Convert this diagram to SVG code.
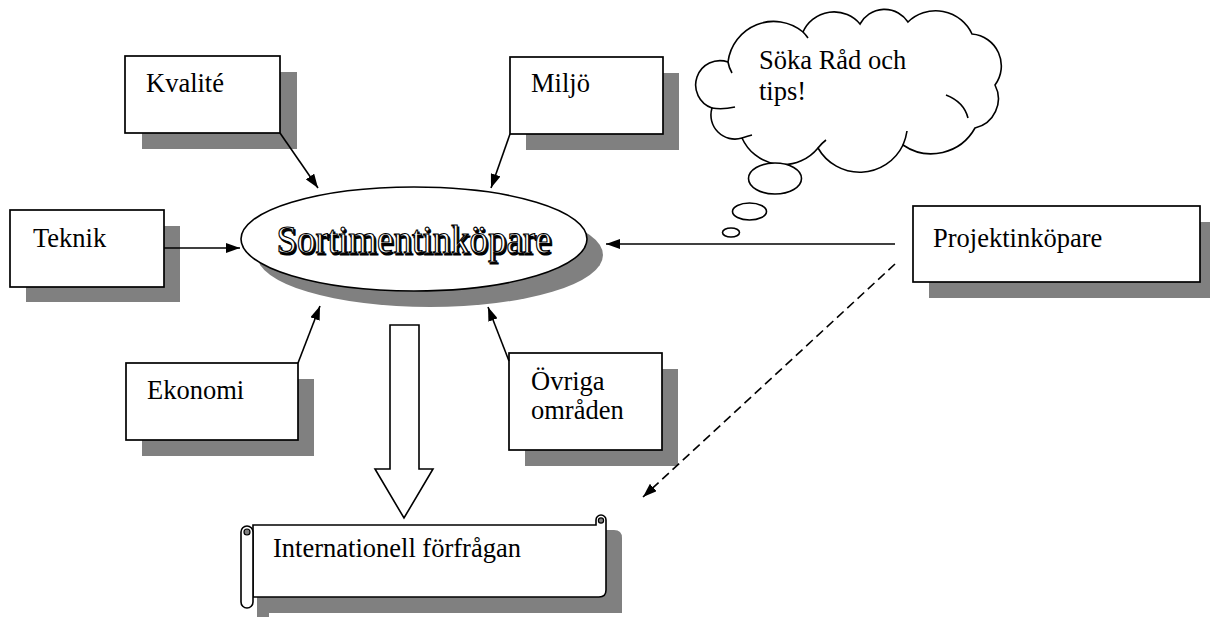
<svg xmlns="http://www.w3.org/2000/svg" width="1210" height="617" viewBox="0 0 1210 617">
<defs>
<style>
.bx{fill:#fff;stroke:#000;stroke-width:1.7}
.sh{fill:#808080;stroke:none}
.t{font-family:"Liberation Serif","Times New Roman",serif;font-size:26.5px;fill:#000}
.ln{stroke:#000;stroke-width:1.6;fill:none}
.ol{fill:#fff;stroke:#000;stroke-width:1.6}
</style>
<marker id="ah" viewBox="0 0 14 10" refX="14" refY="5" markerWidth="14" markerHeight="10" markerUnits="userSpaceOnUse" orient="auto">
<path d="M0,0 L14,5 L0,10 Z" fill="#000"/>
</marker>
</defs>
<rect width="1210" height="617" fill="#fff"/>

<g id="kvalite">
<rect class="sh" x="142" y="72" width="155" height="77"/>
<rect class="bx" x="125" y="56" width="155" height="77"/>
<text class="t" x="146" y="92">Kvalité</text>
</g>

<g id="miljo">
<rect class="sh" x="526" y="73" width="153" height="77"/>
<rect class="bx" x="510" y="57" width="153" height="77"/>
<text class="t" x="531" y="92">Miljö</text>
</g>

<g id="teknik">
<rect class="sh" x="26" y="226" width="154" height="76"/>
<rect class="bx" x="10" y="210" width="154" height="77"/>
<text class="t" x="33" y="247">Teknik</text>
</g>

<g id="ekonomi">
<rect class="sh" x="142" y="379" width="172" height="77"/>
<rect class="bx" x="126" y="363" width="172" height="77"/>
<text class="t" x="147" y="399">Ekonomi</text>
</g>

<g id="ovriga">
<rect class="sh" x="525" y="369" width="153" height="97"/>
<rect class="bx" x="509" y="353" width="153" height="97"/>
<text class="t" x="531" y="390">Övriga</text>
<text class="t" x="531" y="419">områden</text>
</g>

<g id="projektinkopare">
<rect class="sh" x="929" y="222" width="287" height="76"/>
<rect class="bx" x="913" y="206" width="287" height="76"/>
<text class="t" x="933" y="247">Projektinköpare</text>
</g>

<g id="sortimentinkopare">
<ellipse class="sh" cx="430" cy="255" rx="173" ry="52"/>
<ellipse class="ol" cx="414" cy="239" rx="173" ry="52"/>
<text x="415.5" y="254.5" text-anchor="middle" textLength="275" lengthAdjust="spacingAndGlyphs" font-family="Liberation Serif,Times New Roman,serif" font-size="41" fill="#000" stroke="#000" stroke-width="1.2">Sortimentinköpare</text>
<text x="414" y="253" text-anchor="middle" textLength="275" lengthAdjust="spacingAndGlyphs" font-family="Liberation Serif,Times New Roman,serif" font-size="41" fill="#fff" stroke="#000" stroke-width="1.2">Sortimentinköpare</text>
</g>

<g id="cloud">
<path class="ol" d="M712,108 A24,24 0 0 1 728,62 A46,46 0 0 1 803,32 A34,34 0 0 1 860,24 A28,28 0 0 1 908,22 A40,40 0 0 1 972,34 A32,32 0 0 1 995,85 A30,30 0 0 1 975,128 A50,50 0 0 1 903,145 A48,48 0 0 1 818,148 A45,45 0 0 1 742,138 A24,24 0 0 1 712,108 Z"/>
<path class="ln" d="M712,108 Q722,110 735,107"/>
<path class="ln" d="M728,62 Q729,68 732,73"/>
<path class="ln" d="M803,32 Q806,35 808,38"/>
<path class="ln" d="M946,95 Q964,102 968,118"/>
<path class="ln" d="M903,145 Q906,138 907,131"/>
<path class="ln" d="M818,148 Q822,143 826,140"/>
<path class="ln" d="M742,138 Q748,136 752,135"/>
<text class="t" x="759" y="69">Söka Råd och</text>
<text class="t" x="759" y="100">tips!</text>
<ellipse class="ol" cx="775" cy="178.5" rx="26.5" ry="15.5"/>
<ellipse class="ol" cx="749.5" cy="211.5" rx="17" ry="8.5"/>
<ellipse class="ol" cx="731" cy="232.5" rx="8.5" ry="4.5"/>
</g>

<g id="internationell">
<path class="sh" d="M257,530 H614 Q622,530 622,538 V613 H269 V617 H257 Z"/>
<path class="ol" d="M253,525 H596 V520 A5,5 0 0 1 606,520 V590 Q606,597 599,597 H253 Z"/>
<circle cx="601" cy="520.5" r="2.6" fill="#808080" stroke="#000" stroke-width="1.2"/>
<rect class="ol" x="241" y="526" width="12" height="82" rx="6"/>
<circle cx="247" cy="532" r="3" fill="#808080" stroke="#000" stroke-width="1.2"/>
<text class="t" x="273" y="557">Internationell förfrågan</text>
</g>

<g id="connectors">
<line class="ln" x1="280" y1="133" x2="318" y2="188" marker-end="url(#ah)"/>
<line class="ln" x1="510" y1="134" x2="491" y2="188" marker-end="url(#ah)"/>
<line class="ln" x1="164" y1="248" x2="240" y2="248" marker-end="url(#ah)"/>
<line class="ln" x1="298" y1="363" x2="320" y2="306" marker-end="url(#ah)"/>
<line class="ln" x1="509" y1="361" x2="488" y2="307" marker-end="url(#ah)"/>
<line class="ln" x1="895" y1="244" x2="606" y2="244" marker-end="url(#ah)"/>
<line class="ln" x1="895" y1="264" x2="643" y2="497" stroke-dasharray="9,5" marker-end="url(#ah)"/>
<polygon class="ol" points="390,325 419,325 419,469 433,469 404,518 375,469 390,469"/>
</g>
</svg>
